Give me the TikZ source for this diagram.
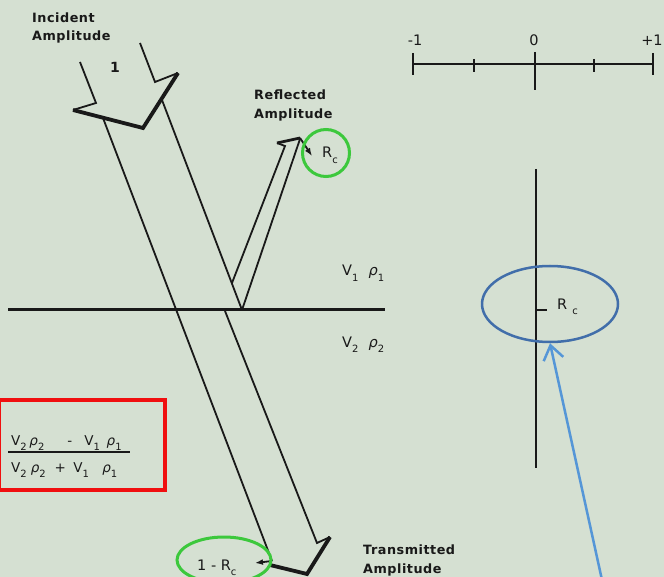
\documentclass[tikz,border=0pt]{standalone}
\usepackage{fontspec}
\setmainfont{DejaVu Sans}
\newfontfamily\labelfont[LetterSpace=4]{DejaVu Sans}
\usetikzlibrary{arrows.meta, shapes.geometric}

\definecolor{paper}{RGB}{213,224,210}
\definecolor{ink}{RGB}{25,25,25}
\definecolor{ringgreen}{RGB}{60,200,60}
\definecolor{ringblue}{RGB}{65,110,170}
\definecolor{arrowblue}{RGB}{85,150,215}
\definecolor{boxred}{RGB}{240,15,15}

\newcommand{\lowsub}[1]{\raisebox{-0.4em}{\fontsize{10}{10}\selectfont #1}}

\begin{document}
\begin{tikzpicture}[x=1pt, y=-1pt, >=latex,
    band/.style={ink, line width=1.8pt},
    head/.style={ink, line width=3.8pt, line join=miter},
    title/.style={ink, inner sep=0pt, anchor=north west, align=left,
      font=\labelfont\bfseries\fontsize{12.8}{18.3}\selectfont},
    sym/.style={ink, inner sep=0pt, anchor=base west, font=\fontsize{14.5}{16}\selectfont},
    ring/.style={line width=3pt}]

    \useasboundingbox (0,0) rectangle (664,577);
    \fill[paper] (0,0) rectangle (664,577);

    % Interface between the two layers
    \draw[ink, line width=3pt] (8,310) -- (385,310);

    % Incident band with its head
    \draw[band] (80,62) -- (96,103) -- (73,110);
    \draw[band] (140,43) -- (155,82) -- (178,73);
    \draw[head] (73,110) -- (143,128) -- (178,73);
    \draw[band] (103,118) -- (272,561);
    \draw[band] (162,100) -- (242,310);

    % Reflected band
    \draw[band] (232,283) -- (285,146) -- (277,143);
    \draw[band] (242,310) -- (300,139);
    \draw[head, line width=2.8pt] (277,143) -- (300,138);
    \draw[band, -{Latex[length=8pt, width=6pt]}] (300,138) -- (312,156);

    % Transmitted band
    \draw[band] (225,311) -- (317,543) -- (330,537);
    \draw[head] (270,565) -- (307,574) -- (330,537);
    \draw[band, -{Latex[length=8pt, width=6pt]}] (272,561) -- (255,563);

    % Labels
    \node[title] (incident) at (32,12.5) {Incident\\Amplitude};
    \node[title] (reflected) at (254,90) {Reflected\\Amplitude};
    \node[title] (transmitted) at (363,545) {Transmitted\\Amplitude};
    \node[title, anchor=base, font=\bfseries\fontsize{14}{16}\selectfont] (unit) at (115,73) {1};

    \node[sym] (upper) at (342,276) {V\lowsub{1}\hspace{0.7em}\textit{ρ}\lowsub{1}};
    \node[sym] (lower) at (342,347) {V\lowsub{2}\hspace{0.7em}\textit{ρ}\lowsub{2}};

    \node[sym] (rcRefl) at (322,158) {R\lowsub{c}};
    \draw[ringgreen, ring] (326,153) circle (23.5);
    \node[sym] (rcTrans) at (197,570) {1 - R\lowsub{c}};
    \draw[ringgreen, ring] (224,560) ellipse (47 and 23);

    % Coefficient
    \draw[boxred, line width=4pt] (-1,399.5) rectangle (164.5,489.5);
    \node[sym, anchor=base west, font=\fontsize{13.5}{15}\selectfont] (num) at (11,445)
      {V\lowsub{2}\hspace{0.2em}\textit{ρ}\lowsub{2}\hspace{1.7em}-\hspace{0.9em}V\lowsub{1}\hspace{0.5em}\textit{ρ}\lowsub{1}};
    \draw[ink, line width=1.4pt] (8,452) -- (130,452);
    \node[sym, anchor=base west, font=\fontsize{13.5}{15}\selectfont] (den) at (11,472)
      {V\lowsub{2}\hspace{0.3em}\textit{ρ}\lowsub{2}\hspace{0.65em}+\hspace{0.55em}V\lowsub{1}\hspace{1.0em}\textit{ρ}\lowsub{1}};

    % Scale from -1 to +1
    \draw[ink, line width=1.6pt] (413,64) -- (653,64);
    \foreach \x in {413,653}
        \draw[ink, line width=1.9pt] (\x,53) -- (\x,75);
    \foreach \x in {474,594}
        \draw[ink, line width=1.9pt] (\x,59) -- (\x,72);
    \draw[ink, line width=1.9pt] (535,52) -- (535,90);
    \node[sym, anchor=base, font=\fontsize{14.5}{16}\selectfont] (minusOne) at (415,46) {-1};
    \node[sym, anchor=base, font=\fontsize{14.5}{16}\selectfont] (zero) at (534,46) {0};
    \node[sym, anchor=base, font=\fontsize{14.5}{16}\selectfont] (plusOne) at (652,46) {+1};

    % Axis with the value marked
    \draw[ink, line width=1.6pt] (536,169) -- (536,468);
    \draw[ink, line width=1.6pt] (536,310) -- (547,310);
    \node[sym] (rcAxis) at (557,309) {R\hspace{0.35em}\lowsub{c}};
    \node[draw=ringblue, line width=2.5pt, ellipse, minimum width=136pt,
      minimum height=76pt, inner sep=0pt] (rcRing) at (550,304) {};
    \coordinate (arrowFoot) at (602,580);
    \draw[arrowblue, line width=2.5pt, -{Straight Barb[length=14pt, width=20pt]}]
        (arrowFoot) -- (rcRing.south);
\end{tikzpicture}
\end{document}
